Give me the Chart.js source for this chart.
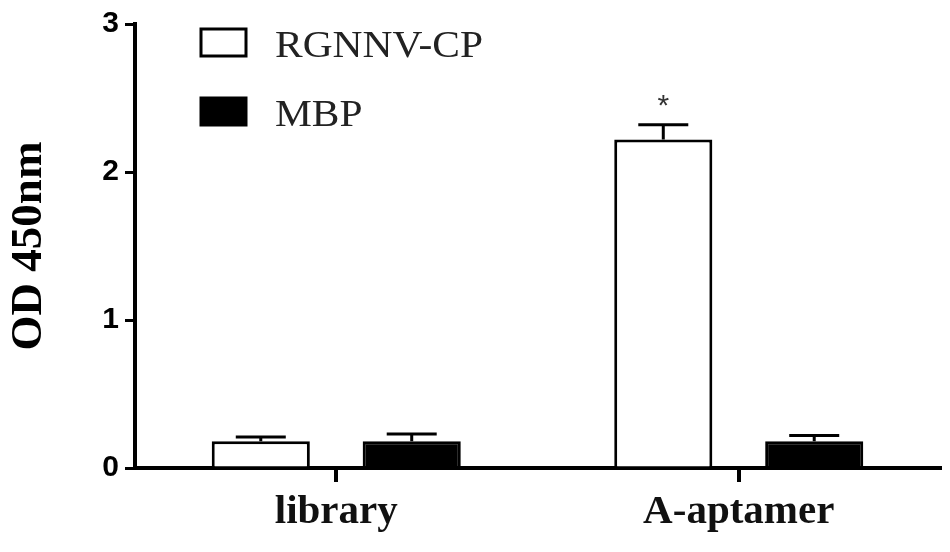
<!DOCTYPE html>
<html>
<head>
<meta charset="utf-8">
<script src="https://cdn.jsdelivr.net/npm/chart.js@4.4.1/dist/chart.umd.min.js"></script>
<style>
    body { margin: 0; background: #fff; }
    #odChart { display: block; }
</style>
</head>
<body>
<canvas id="odChart" width="950" height="552"></canvas>
<script>
var categories = ["library", "A-aptamer"];
var seriesNames = ["RGNNV-CP", "MBP"];
var rgnnvValues = [0.18, 2.22];
var rgnnvErrors = [0.03, 0.10];
var mbpValues = [0.18, 0.18];
var mbpErrors = [0.05, 0.04];
var yTicks = [0, 1, 2, 3];
var marks = [["", "*"], ["", ""]]; // significance marks per dataset / category

// error bars (upper half only) + significance star
const errorBars = {
    id: "errorBars",
    afterDatasetsDraw(chart) {
        const ctx = chart.ctx;
        const yScale = chart.scales.y;
        const errs = [rgnnvErrors, mbpErrors];
        ctx.save();
        ctx.strokeStyle = "#000";
        ctx.lineWidth = 3;
        chart.data.datasets.forEach(function (ds, i) {
            const meta = chart.getDatasetMeta(i);
            meta.data.forEach(function (bar, j) {
                const top = yScale.getPixelForValue(ds.data[j] + errs[i][j]);
                ctx.beginPath();
                ctx.moveTo(bar.x, bar.y);
                ctx.lineTo(bar.x, top);
                ctx.moveTo(bar.x - 25, top);
                ctx.lineTo(bar.x + 25, top);
                ctx.stroke();
                if (marks[i][j]) {
                    ctx.fillStyle = "#333";
                    ctx.font = "30px 'Liberation Sans'";
                    ctx.textAlign = "center";
                    ctx.textBaseline = "middle";
                    ctx.fillText(marks[i][j], bar.x, top - 18);
                }
            });
        });
        ctx.restore();
    },
};

// legend drawn at the top-left like the figure
const boxLegend = {
    id: "boxLegend",
    afterDraw(chart) {
        const ctx = chart.ctx;
        ctx.save();
        chart.data.datasets.forEach(function (ds, i) {
            const y = 29 + i * 69;
            ctx.fillStyle = ds.backgroundColor;
            ctx.fillRect(201, y, 45, 27);
            ctx.strokeStyle = "#000";
            ctx.lineWidth = 3;
            ctx.strokeRect(201, y, 45, 27);
            ctx.save();
            ctx.translate(275, y + 28);
            ctx.scale(1.12, 1);
            ctx.fillStyle = "#222";
            ctx.font = "37px 'Liberation Serif'";
            ctx.textAlign = "left";
            ctx.textBaseline = "alphabetic";
            ctx.fillText(ds.label, 0, 0);
            ctx.restore();
        });
        ctx.restore();
    },
};

var ctx = document.getElementById("odChart");
var odChart = new Chart(ctx, {
    type: "bar",
    data: {
        labels: categories,
        datasets: [
            {
                label: seriesNames[0],
                data: rgnnvValues,
                backgroundColor: "#ffffff",
                borderColor: "#000000",
                borderWidth: 3,
                categoryPercentage: 0.75,
                barPercentage: 0.65,
            },
            {
                label: seriesNames[1],
                data: mbpValues,
                backgroundColor: "#000000",
                borderColor: "#000000",
                borderWidth: 3,
                categoryPercentage: 0.75,
                barPercentage: 0.65,
            },
        ],
    },
    options: {
        responsive: false,
        animation: false,
        layout: {
            padding: { top: 22, right: 10, left: 0, bottom: 0 },
        },
        plugins: {
            legend: { display: false },
            tooltip: { enabled: false },
        },
        scales: {
            x: {
                afterFit(scale) {
                    scale.height = 84;
                },
                grid: {
                    offset: false,
                    drawOnChartArea: false,
                    drawTicks: true,
                    tickLength: 14,
                    color: "#000",
                    lineWidth: 4,
                },
                border: { color: "#000", width: 4 },
                ticks: {
                    color: "#111",
                    padding: 6,
                    font: { family: "'Liberation Serif'", size: 41, weight: "bold" },
                },
            },
            y: {
                min: 0,
                max: 3,
                afterFit(scale) {
                    scale.width = 135;
                },
                afterBuildTicks(scale) {
                    scale.ticks = yTicks.map(function (v) {
                        return { value: v };
                    });
                },
                grid: {
                    drawOnChartArea: false,
                    drawTicks: true,
                    tickLength: 10,
                    color: "#000",
                    lineWidth: 3,
                },
                border: { color: "#000", width: 4 },
                ticks: {
                    color: "#000",
                    padding: 6,
                    font: { family: "'Liberation Sans'", size: 30, weight: "bold" },
                },
                title: {
                    display: true,
                    text: "OD 450nm",
                    color: "#000",
                    padding: { top: 2, bottom: 0 },
                    font: { family: "'Liberation Serif'", size: 45, weight: "bold" },
                },
            },
        },
    },
    plugins: [errorBars, boxLegend],
});
</script>
</body>
</html>
